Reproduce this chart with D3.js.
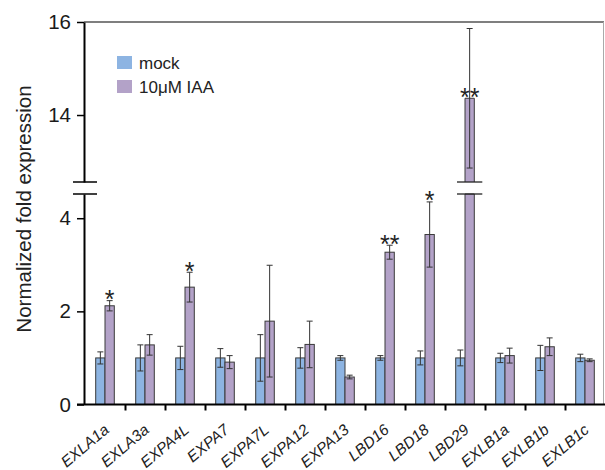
<!DOCTYPE html>
<html>
<head>
<meta charset="utf-8">
<script src="https://cdn.jsdelivr.net/npm/d3@7"></script>
<style>
  body { margin: 0; background: #fff; }
  svg { font-family: "Liberation Sans", Arial, sans-serif; }
</style>
</head>
<body>
<script>
const categories = ["EXLA1a", "EXLA3a", "EXPA4L", "EXPA7", "EXPA7L", "EXPA12", "EXPA13",
  "LBD16", "LBD18", "LBD29", "EXLB1a", "EXLB1b", "EXLB1c"];
const mockValues = [1, 1, 1, 1, 1, 1, 1, 1, 1, 1, 1, 1, 1];
const mockErrors = [0.13, 0.28, 0.25, 0.2, 0.5, 0.22, 0.05, 0.05, 0.15, 0.17, 0.1, 0.27, 0.08];
const iaaValues = [2.12, 1.28, 2.52, 0.91, 1.79, 1.29, 0.59, 3.27, 3.65, 14.36, 1.05, 1.24, 0.95];
const iaaErrors = [0.11, 0.22, 0.32, 0.14, 1.2, 0.5, 0.04, 0.15, 0.7, 1.5, 0.16, 0.19, 0.03];
const significance = ["*", "", "*", "", "", "", "", "**", "*", "**", "", "", ""];
const seriesNames = ["mock", "10μM IAA"];
const lowTicks = [0, 2, 4];
const highTicks = [14, 16];
// broken y axis: two segments
const lowDomain = [0, 4.52];
const highDomain = [12.56, 16];

const w = 605;
const h = 470;
const colors = ["#8db4e2", "#b3a2c8"];

const svg = d3.select("body").append("svg").attr("width", w).attr("height", h);

const axisX = 84;
const baseY = 404.5;

// scales
const xScale = d3.scaleBand().domain(categories).range([85, 605])
  .paddingInner(0.535).paddingOuter(0.2675);
const xSub = d3.scaleBand().domain(seriesNames).range([0, xScale.bandwidth()]);
const xIndex = d3.scaleLinear().domain([0, categories.length]).range([85, 605]);

const yLow = d3.scaleLinear().domain(lowDomain).range([baseY, 194]);
const yHigh = d3.scaleLinear().domain(highDomain).range([182, 22]);
const breakLow = yLow(lowDomain[1]);
const breakHigh = yHigh(highDomain[0]);

// build rows
const rows = [];
categories.forEach((c, i) => {
  rows.push({ cat: c, s: seriesNames[0], v: mockValues[i], e: mockErrors[i], k: 0 });
  rows.push({ cat: c, s: seriesNames[1], v: iaaValues[i], e: iaaErrors[i], k: 1, sig: significance[i] });
});

// frame (top and right)
svg.append("line").attr("x1", axisX).attr("x2", 604).attr("y1", 22).attr("y2", 22)
  .attr("stroke", "#555").attr("stroke-width", 1.6);
svg.append("line").attr("x1", 603.5).attr("x2", 603.5).attr("y1", 22).attr("y2", baseY)
  .attr("stroke", "#aaa").attr("stroke-width", 1);

// bars
const barG = svg.append("g");
rows.forEach((d) => {
  const x0 = xScale(d.cat) + xSub(d.s);
  const bw = xSub.bandwidth();
  if (d.v <= lowDomain[1]) {
    barG.append("rect").attr("x", x0).attr("y", yLow(d.v))
      .attr("width", bw).attr("height", baseY - yLow(d.v))
      .attr("fill", colors[d.k]).attr("stroke", "#3a3a3a").attr("stroke-width", 1);
  } else {
    // broken bar
    barG.append("path")
      .attr("d", `M${x0},${baseY}V${breakLow}H${x0 + bw}V${baseY}`)
      .attr("fill", colors[d.k]).attr("stroke", "#3a3a3a").attr("stroke-width", 1);
    barG.append("path")
      .attr("d", `M${x0},${breakHigh}V${yHigh(d.v)}H${x0 + bw}V${breakHigh}`)
      .attr("fill", colors[d.k]).attr("stroke", "#3a3a3a").attr("stroke-width", 1);
    barG.append("line").attr("x1", x0 - 8).attr("x2", x0 + bw + 8)
      .attr("y1", breakLow).attr("y2", breakLow).attr("stroke", "#222").attr("stroke-width", 1.3);
    barG.append("line").attr("x1", x0 - 8).attr("x2", x0 + bw + 8)
      .attr("y1", breakHigh).attr("y2", breakHigh).attr("stroke", "#222").attr("stroke-width", 1.3);
  }
});

// error bars
const yOf = (v) => (v <= lowDomain[1] ? yLow(v) : yHigh(v));
const errG = svg.append("g").attr("stroke", "#333").attr("stroke-width", 1);
rows.forEach((d) => {
  const cx = xScale(d.cat) + xSub(d.s) + xSub.bandwidth() / 2;
  const yt = yOf(d.v + d.e);
  const yb = yOf(d.v - d.e);
  errG.append("line").attr("x1", cx).attr("x2", cx).attr("y1", yt).attr("y2", yb);
  errG.append("line").attr("x1", cx - 3).attr("x2", cx + 3).attr("y1", yt).attr("y2", yt);
  errG.append("line").attr("x1", cx - 3).attr("x2", cx + 3).attr("y1", yb).attr("y2", yb);
});

// significance stars
rows.filter((d) => d.sig).forEach((d) => {
  const cx = xScale(d.cat) + xSub(d.s) + xSub.bandwidth() / 2;
  const top = d.v <= lowDomain[1] ? yLow(d.v + d.e) : yHigh(d.v);
  svg.append("text").attr("x", cx).attr("y", top - 7 + 0.58 * 25)
    .attr("text-anchor", "middle").attr("font-size", 25).attr("fill", "#222")
    .text(d.sig);
});

// y axes
const yAxisLow = d3.axisLeft(yLow).tickValues(lowTicks).tickFormat(d3.format("d"))
  .tickSize(7).tickSizeOuter(0).tickPadding(6);
const yAxisHigh = d3.axisLeft(yHigh).tickValues(highTicks).tickFormat(d3.format("d"))
  .tickSize(7).tickSizeOuter(0).tickPadding(6);
[yAxisLow, yAxisHigh].forEach((ax) => {
  const g = svg.append("g").attr("transform", "translate(" + axisX + ",0)").call(ax);
  g.select(".domain").attr("stroke", "#000").attr("stroke-width", 2);
  g.selectAll(".tick line").attr("stroke", "#000").attr("stroke-width", 1.5);
  g.selectAll(".tick text").attr("font-size", 20.5).attr("fill", "#1a1a1a")
    .attr("font-family", "Liberation Sans, Arial, sans-serif");
});
// axis break marks
[breakLow, breakHigh].forEach((y) => {
  svg.append("line").attr("x1", 73).attr("x2", 97).attr("y1", y).attr("y2", y)
    .attr("stroke", "#000").attr("stroke-width", 1.5);
});

// x axis: line with ticks at category boundaries
const xTickAxis = d3.axisBottom(xIndex).tickValues(d3.range(1, categories.length))
  .tickSize(6).tickSizeOuter(0).tickFormat("");
const gx = svg.append("g").attr("transform", "translate(0," + baseY + ")").call(xTickAxis);
gx.select(".domain").remove();
gx.selectAll(".tick line").attr("stroke", "#000").attr("stroke-width", 2);
svg.append("line").attr("x1", axisX - 7).attr("x2", 605).attr("y1", baseY).attr("y2", baseY)
  .attr("stroke", "#000").attr("stroke-width", 2);

// category labels
const labelAxis = d3.axisBottom(xScale).tickSize(0).tickPadding(0);
const gl = svg.append("g").attr("transform", "translate(0," + baseY + ")").call(labelAxis);
gl.select(".domain").remove();
gl.selectAll(".tick text")
  .attr("font-size", 15.5).attr("font-style", "italic").attr("fill", "#222")
  .attr("font-family", "Liberation Sans, Arial, sans-serif")
  .attr("text-anchor", "end").attr("dy", 0).attr("y", 0)
  .attr("transform", "translate(5,27) rotate(-40)");

// y label
svg.append("text")
  .attr("transform", "translate(31,209) rotate(-90)")
  .attr("text-anchor", "middle").attr("font-size", 20.5).attr("fill", "#222")
  .text("Normalized fold expression");

// legend
const legend = svg.append("g").attr("transform", "translate(117,56)");
seriesNames.forEach((s, i) => {
  legend.append("rect").attr("x", 0).attr("y", i * 24).attr("width", 15).attr("height", 13)
    .attr("fill", colors[i]);
  legend.append("text").attr("x", 22).attr("y", i * 24 + 12.5)
    .attr("font-size", 17).attr("fill", "#222").text(s);
});
</script>
</body>
</html>
